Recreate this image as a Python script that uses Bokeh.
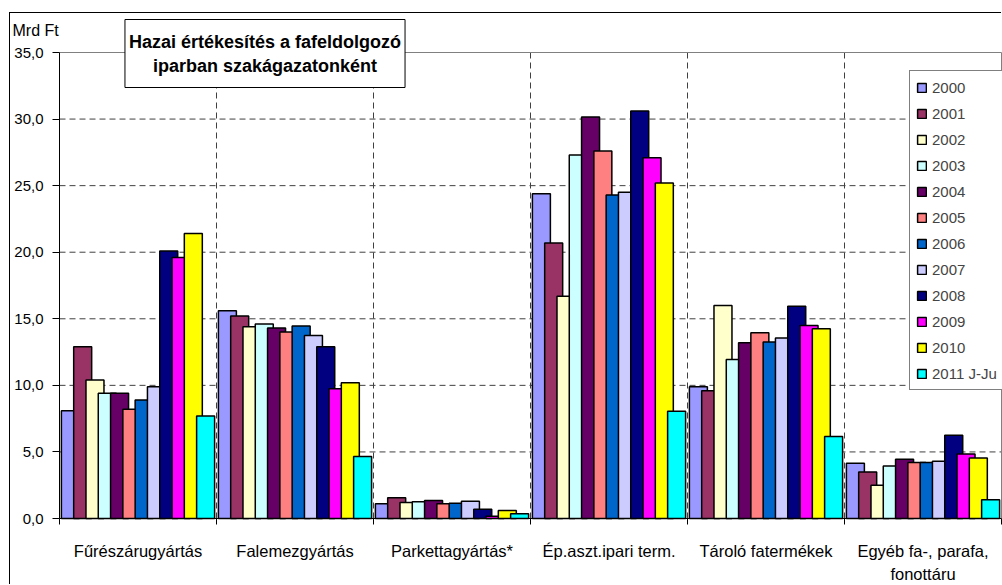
from bokeh.plotting import figure
from bokeh.models import (Range1d, FixedTicker, Legend, LegendItem, Label)
from bokeh.embed import file_html
from bokeh.resources import INLINE

categories = ["Fűrészárugyártás", "Falemezgyártás", "Parkettagyártás*",
              "Ép.aszt.ipari term.", "Tároló fatermékek", "Egyéb fa-, parafa,\nfonottáru"]
years = ["2000", "2001", "2002", "2003", "2004", "2005",
         "2006", "2007", "2008", "2009", "2010", "2011 J-Ju"]

v2000 = [8.1, 15.6, 1.1, 24.4, 9.9, 4.15]
v2001 = [12.9, 15.2, 1.55, 20.7, 9.6, 3.5]
v2002 = [10.4, 14.4, 1.2, 16.7, 16.0, 2.5]
v2003 = [9.4, 14.6, 1.25, 27.3, 11.95, 3.95]
v2004 = [9.4, 14.3, 1.35, 30.15, 13.2, 4.45]
v2005 = [8.2, 14.0, 1.1, 27.6, 13.95, 4.2]
v2006 = [8.9, 14.45, 1.15, 24.3, 13.25, 4.2]
v2007 = [9.9, 13.75, 1.3, 24.5, 13.55, 4.3]
v2008 = [20.1, 12.9, 0.7, 30.6, 15.95, 6.25]
v2009 = [19.6, 9.75, 0.17, 27.1, 14.5, 4.85]
v2010 = [21.4, 10.2, 0.6, 25.2, 14.25, 4.55]
v2011 = [7.7, 4.65, 0.35, 8.05, 6.15, 1.4]
series = [v2000, v2001, v2002, v2003, v2004, v2005,
          v2006, v2007, v2008, v2009, v2010, v2011]

colors = ["#9999FF", "#993366", "#FFFFCC", "#CCFFFF", "#660066", "#FF8080",
          "#0066CC", "#CCCCFF", "#000080", "#FF00FF", "#FFFF00", "#00FFFF"]

y_ticks = [0, 5, 10, 15, 20, 25, 30, 35]
y_tick_labels = ["0,0", "5,0", "10,0", "15,0", "20,0", "25,0", "30,0", "35,0"]

FONT = "Liberation Sans"
NCAT = len(categories)
YMAX = y_ticks[-1]
PX = 157.0      # pixels per category
PY = 466.0 / 35  # pixels per Mrd Ft

p = figure(width=992, height=572, output_backend="svg", toolbar_location=None,
           x_range=Range1d(-49.0 / PX, NCAT + 1.0 / PX),
           y_range=Range1d(-67.0 / PY, 505.0 / PY),
           min_border_left=0, min_border_top=0, min_border_bottom=0,
           min_border_right=0,
           styles={"margin-left": "10px", "margin-top": "13px",
                   "box-shadow": "-1px -1px 0 0 #000"})
p.background_fill_color = "white"
p.border_fill_color = "white"
p.outline_line_color = None

# dashed horizontal gridlines, vertical separators, plot-area frame (top, right)
gy = y_ticks[1:-1]
p.segment(x0=[0] * len(gy), y0=gy, x1=[NCAT] * len(gy), y1=gy,
          line_color="#404040", line_dash="6 4", line_width=1)
bounds = list(range(1, NCAT))
p.segment(x0=bounds, y0=[0] * len(bounds), x1=bounds, y1=[YMAX] * len(bounds),
          line_color="#404040", line_dash="6 4", line_width=1)
p.segment(x0=[0, NCAT], y0=[YMAX, 0], x1=[NCAT, NCAT], y1=[YMAX, YMAX],
          line_color="#808080", line_width=1)

step = 0.0783
bw = 0.1146
renderers = []
for k, vals in enumerate(series):
    xs = [i + 0.5 + (k - 5.5) * step for i in range(NCAT)]
    r = p.vbar(x=xs, top=vals, width=bw, bottom=0, fill_color=colors[k],
               line_color="black", line_width=1.5)
    renderers.append(r)

# y axis, drawn at x = 0
p.yaxis.fixed_location = 0
p.yaxis.ticker = FixedTicker(ticks=y_ticks)
p.yaxis.bounds = (0, YMAX)
p.yaxis.major_label_overrides = {t: s for t, s in zip(y_ticks, y_tick_labels)}
p.yaxis.major_label_text_font = FONT
p.yaxis.major_label_text_font_size = "15px"
p.yaxis.major_label_text_color = "black"
p.yaxis.axis_line_color = "black"
p.yaxis.major_tick_out = 7
p.yaxis.major_tick_in = 0
p.yaxis.major_tick_line_color = "black"
p.yaxis.minor_tick_line_color = None
p.yaxis.major_label_standoff = 9

# x axis, drawn at y = 0
centers = [i + 0.5 for i in range(NCAT)]
p.xaxis.fixed_location = 0
p.xaxis.ticker = FixedTicker(ticks=centers, minor_ticks=list(range(NCAT + 1)))
p.xaxis.bounds = (0, NCAT)
p.xaxis.major_label_overrides = {c: n for c, n in zip(centers, categories)}
p.xaxis.major_label_text_font = FONT
p.xaxis.major_label_text_font_size = "16.5px"
p.xaxis.major_label_text_line_height = 1.3
p.xaxis.major_label_text_color = "black"
p.xaxis.axis_line_color = "black"
p.xaxis.major_tick_out = 0
p.xaxis.major_tick_in = 0
p.xaxis.minor_tick_out = 6
p.xaxis.minor_tick_in = 0
p.xaxis.minor_tick_line_color = "black"
p.xaxis.major_label_standoff = 17

p.xgrid.grid_line_color = None
p.ygrid.grid_line_color = None

# legend (offset from bottom-left of the frame)
legend = Legend(items=[LegendItem(label=y, renderers=[r]) for y, r in zip(years, renderers)],
                location=(899, 195), margin=0, padding=6, spacing=6,
                label_height=20, glyph_height=11, glyph_width=11, label_standoff=5,
                label_text_font=FONT, label_text_font_size="15px",
                border_line_color="black", border_line_width=1,
                background_fill_color="white", background_fill_alpha=1)
p.add_layout(legend)

# unit label
p.add_layout(Label(x=0, y=YMAX, x_offset=-47, y_offset=22, text="Mrd Ft",
                   text_font=FONT, text_font_size="16px", text_align="left",
                   text_baseline="middle", text_color="black"))

# title box
p.add_layout(Label(x=0, y=YMAX, x_offset=205.5, y_offset=-1,
                   text="Hazai értékesítés a fafeldolgozó\niparban szakágazatonként",
                   text_font=FONT, text_font_size="18px", text_font_style="bold",
                   text_align="center", text_baseline="middle", text_color="black",
                   background_fill_color="white", background_fill_alpha=1,
                   border_line_color="black", border_line_width=1,
                   padding=dict(left=4, right=4, top=12, bottom=12)))

open("out.html", "w").write(file_html(p, INLINE))
